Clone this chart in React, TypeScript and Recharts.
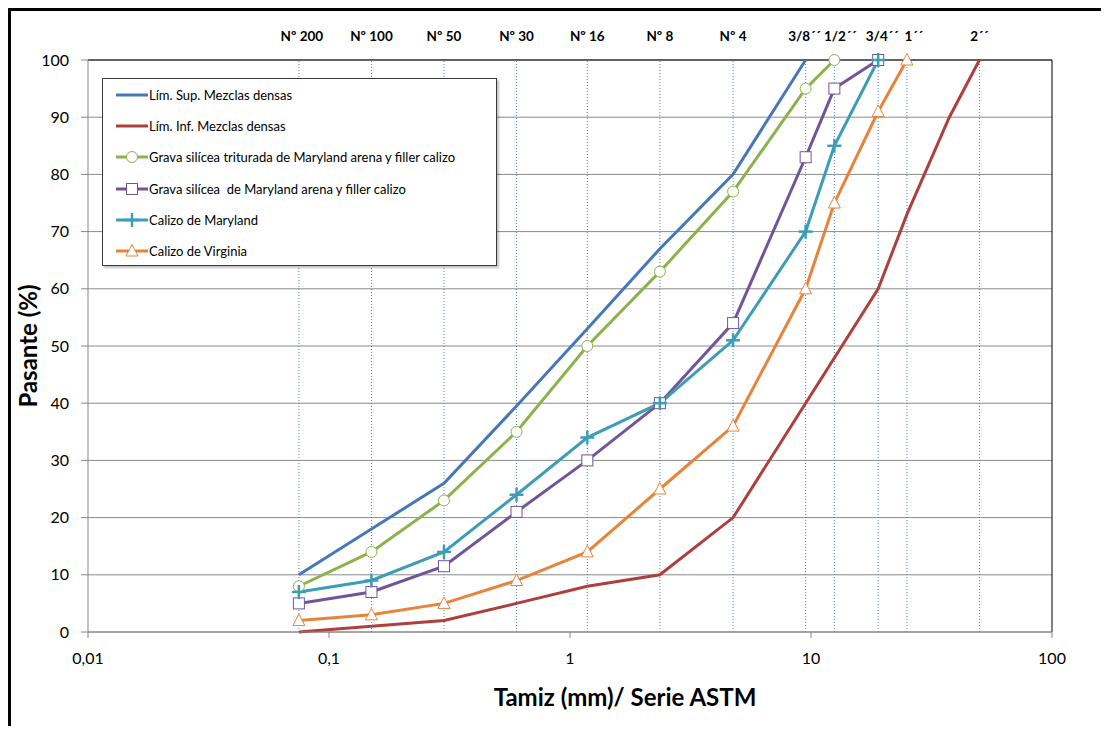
import React from 'react'
import { LineChart, Line, XAxis, YAxis, CartesianGrid, ReferenceLine, Legend, Label } from 'recharts'

// ASTM sieve sizes (mm) and the labels printed above the plot
const SIEVES = [0.075, 0.15, 0.3, 0.6, 1.18, 2.36, 4.75, 9.5, 12.5, 19, 25, 50]
const SIEVE_LABELS = ['Nº 200', 'Nº 100', 'Nº 50', 'Nº 30', 'Nº 16', 'Nº 8', 'Nº 4', '3/8´´', '1/2´´', '3/4´´', '1´´', '2´´']

const X_TICKS = [0.01, 0.1, 1, 10, 100]
const X_TICK_LABELS = ['0,01', '0,1', '1', '10', '100']
const Y_TICKS = [0, 10, 20, 30, 40, 50, 60, 70, 80, 90, 100]

const supX = [0.075, 0.15, 0.3, 0.6, 1.18, 2.36, 4.75, 9.5]
const supY = [10, 18, 26, 39.5, 53, 67, 80, 100]

const infX = [0.075, 0.15, 0.3, 0.6, 1.18, 2.36, 4.75, 9.5, 19, 25, 37.5, 50]
const infY = [0, 1, 2, 5, 8, 10, 20, 40, 60, 73, 90, 100]

const trituradaX = [0.075, 0.15, 0.3, 0.6, 1.18, 2.36, 4.75, 9.5, 12.5]
const trituradaY = [8, 14, 23, 35, 50, 63, 77, 95, 100]

const gravaX = [0.075, 0.15, 0.3, 0.6, 1.18, 2.36, 4.75, 9.5, 12.5, 19]
const gravaY = [5, 7, 11.5, 21, 30, 40, 54, 83, 95, 100]

const marylandX = [0.075, 0.15, 0.3, 0.6, 1.18, 2.36, 4.75, 9.5, 12.5, 19]
const marylandY = [7, 9, 14, 24, 34, 40, 51, 70, 85, 100]

const virginiaX = [0.075, 0.15, 0.3, 0.6, 1.18, 2.36, 4.75, 9.5, 12.5, 19, 25]
const virginiaY = [2, 3, 5, 9, 14, 25, 36, 60, 75, 91, 100]

const zip = (xs: number[], ys: number[]) => xs.map((x, i) => ({ x, y: ys[i] }))

type Kind = 'none' | 'circle' | 'square' | 'plus' | 'triangle'

const SERIES: { name: string; color: string; kind: Kind; data: { x: number; y: number }[] }[] = [
  { name: 'Lím. Sup. Mezclas densas', color: '#4677B8', kind: 'none', data: zip(supX, supY) },
  { name: 'Lím. Inf. Mezclas densas', color: '#AD403D', kind: 'none', data: zip(infX, infY) },
  { name: 'Grava silícea triturada de Maryland arena y filler calizo', color: '#8DB14B', kind: 'circle', data: zip(trituradaX, trituradaY) },
  { name: 'Grava silícea  de Maryland arena y filler calizo', color: '#71559B', kind: 'square', data: zip(gravaX, gravaY) },
  { name: 'Calizo de Maryland', color: '#3D9DB7', kind: 'plus', data: zip(marylandX, marylandY) },
  { name: 'Calizo de Virginia', color: '#E8833A', kind: 'triangle', data: zip(virginiaX, virginiaY) },
]

const FONT = 'Lato, "Open Sans", sans-serif'

// the inch labels sit a little right of their lines so they don't collide
const LABEL_NUDGE: Record<string, number> = { '3/8´´': -1, '1/2´´': 6, '3/4´´': 4, '1´´': 7, 'Nº 200': 3 }

function Marker({ kind, cx, cy, color }: { kind: Kind; cx: number; cy: number; color: string }) {
  if (kind === 'circle') return <circle cx={cx} cy={cy} r={5.5} fill="#fff" stroke={color} strokeWidth={1} />
  if (kind === 'square') return <rect x={cx - 5.5} y={cy - 5.5} width={11} height={11} fill="#fff" stroke={color} strokeWidth={1} />
  if (kind === 'triangle')
    return <polygon points={`${cx},${cy - 6.5} ${cx + 6},${cy + 5} ${cx - 6},${cy + 5}`} fill="#fff" stroke={color} strokeWidth={1} />
  if (kind === 'plus')
    return (
      <g stroke={color} strokeWidth={2.5}>
        <line x1={cx - 7} y1={cy} x2={cx + 7} y2={cy} />
        <line x1={cx} y1={cy - 7} x2={cx} y2={cy + 7} />
      </g>
    )
  return null
}

function SieveTick({ x, y, payload }: any) {
  const label = SIEVE_LABELS[SIEVES.indexOf(payload.value)] ?? ''
  return (
    <text
      x={x + (LABEL_NUDGE[label] ?? 0)}
      y={y}
      textAnchor="middle"
      style={{ fontFamily: FONT, fontSize: 13.5, fontWeight: 700, fill: '#000' }}
    >
      {label}
    </text>
  )
}

function LegendBox() {
  return (
    <div
      style={{
        width: 395,
        height: 188,
        boxSizing: 'border-box',
        border: '1px solid #3a3a3a',
        boxShadow: '2px 2px 2px rgba(0,0,0,0.25)',
        background: '#fff',
        fontFamily: FONT,
        fontSize: 13,
        color: '#000',
      }}
    >
      {SERIES.map(s => (
        <div key={s.name} style={{ height: 31.3, display: 'flex', alignItems: 'center', paddingLeft: 13 }}>
          <svg width={33} height={16} style={{ flex: 'none' }}>
            <line x1={0} y1={8} x2={32} y2={8} stroke={s.color} strokeWidth={3} />
            <Marker kind={s.kind} cx={16} cy={8} color={s.color} />
          </svg>
          <span style={{ whiteSpace: 'pre' }}>{s.name}</span>
        </div>
      ))}
    </div>
  )
}

export default function App() {
  return (
    <div
      style={{
        width: 1098,
        height: 715,
        borderTop: '3px solid #000',
        borderLeft: '3px solid #000',
        background: '#fff',
      }}
    >
      <LineChart width={1095} height={715} margin={{ top: 10, right: 54, bottom: 0, left: 0 }}>
        <CartesianGrid vertical={false} stroke="#8a8a8a" />
        <XAxis
          dataKey="x"
          type="number"
          scale="log"
          domain={[0.01, 100]}
          allowDataOverflow
          ticks={X_TICKS}
          interval={0}
          tickFormatter={v => X_TICK_LABELS[X_TICKS.indexOf(v)] ?? String(v)}
          height={94}
          tickSize={6}
          tickMargin={15}
          axisLine={{ stroke: '#868686' }}
          tickLine={{ stroke: '#868686' }}
          tick={{ fill: '#000', fontSize: 16, fontFamily: FONT }}
        >
          <Label
            content={() => (
              <text
                x={614}
                y={689}
                textAnchor="middle"
                dominantBaseline="middle"
                style={{ fontFamily: FONT, fontWeight: 700, fontSize: 24, fill: '#000' }}
              >
                Tamiz (mm)/ Serie ASTM
              </text>
            )}
          />
        </XAxis>
        <XAxis
          xAxisId="top"
          orientation="top"
          dataKey="x"
          type="number"
          scale="log"
          domain={[0.01, 100]}
          allowDataOverflow
          ticks={SIEVES}
          interval={0}
          height={39}
          tickSize={0}
          tickMargin={19}
          axisLine={false}
          tickLine={false}
          tick={<SieveTick />}
        />
        <YAxis
          type="number"
          domain={[0, 100]}
          ticks={Y_TICKS}
          interval={0}
          width={77}
          tickSize={7}
          tickMargin={12}
          axisLine={{ stroke: '#868686' }}
          tickLine={{ stroke: '#868686' }}
          tick={{ fill: '#000', fontSize: 16, fontFamily: FONT }}
        >
          <Label
            content={({ viewBox }: any) => {
              const cy = viewBox.y + viewBox.height / 2
              return (
                <text
                  x={20}
                  y={cy}
                  transform={`rotate(-90 20 ${cy})`}
                  textAnchor="middle"
                  dominantBaseline="middle"
                  style={{ fontFamily: FONT, fontWeight: 700, fontSize: 24, fill: '#000' }}
                >
                  Pasante (%)
                </text>
              )
            }}
          />
        </YAxis>

        {SIEVES.map(s => (
          <ReferenceLine key={s} x={s} stroke="#4F81BD" strokeWidth={1} strokeDasharray="1 2" />
        ))}
        <ReferenceLine y={100} stroke="#000" strokeWidth={1} />
        <ReferenceLine x={100} stroke="#000" strokeWidth={1} />

        <Legend
          layout="vertical"
          align="center"
          verticalAlign="middle"
          content={() => <LegendBox />}
          wrapperStyle={{ position: 'absolute', left: 91, top: 67, width: 395, height: 188 }}
        />

        {SERIES.map(s => (
          <Line
            key={s.name}
            data={s.data}
            dataKey="y"
            name={s.name}
            type="linear"
            stroke={s.color}
            strokeWidth={3}
            isAnimationActive={false}
            dot={
              s.kind === 'none'
                ? false
                : (p: any) => <Marker key={`${s.kind}-${p.index}`} kind={s.kind} cx={p.cx} cy={p.cy} color={s.color} />
            }
            activeDot={false}
          />
        ))}
      </LineChart>
    </div>
  )
}
